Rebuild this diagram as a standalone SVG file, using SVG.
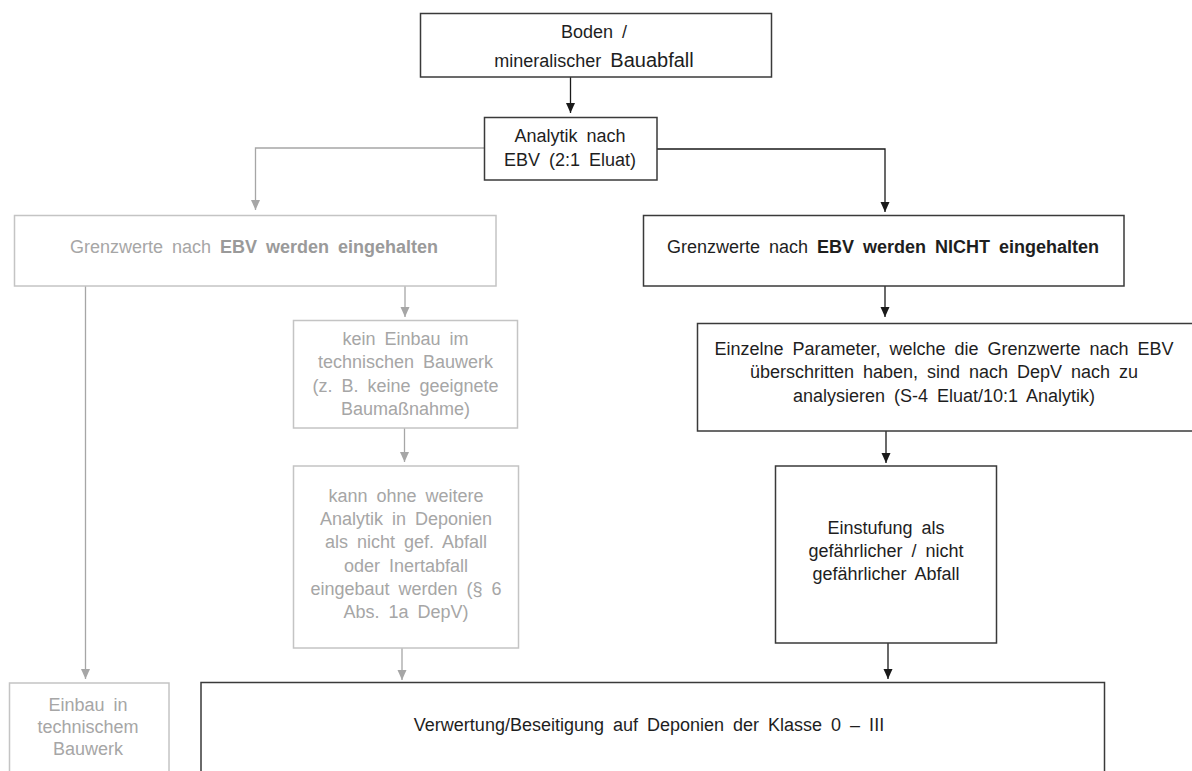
<svg xmlns="http://www.w3.org/2000/svg" width="1192" height="771" viewBox="0 0 1192 771">
<defs>
<marker id="ab" markerUnits="userSpaceOnUse" markerWidth="10" markerHeight="10" refX="10" refY="4.5" orient="auto">
<path d="M0,0 L10,4.5 L0,9 z" fill="#1a1a1a"/>
</marker>
<marker id="ag" markerUnits="userSpaceOnUse" markerWidth="10" markerHeight="10" refX="10" refY="4.5" orient="auto">
<path d="M0,0 L10,4.5 L0,9 z" fill="#a6a6a6"/>
</marker>
</defs>
<style>
text{font-family:"Liberation Sans",Arial,sans-serif;font-size:18px;word-spacing:4px;text-anchor:middle}
.bx{fill:#fff;stroke:#3a3a3a;stroke-width:1.5}
.gx{fill:#fff;stroke:#c4c4c4;stroke-width:1.5}
.bt{fill:#1e1e1e}
.gt{fill:#a6a6a6}
.b{font-weight:bold}
.gb{font-weight:bold;fill:#9a9a9a}
.cb{fill:none;stroke:#1a1a1a;stroke-width:1.3;marker-end:url(#ab)}
.cg{fill:none;stroke:#a6a6a6;stroke-width:1.3;marker-end:url(#ag)}
</style>
<rect width="1192" height="771" fill="#fff"/>
<g id="connectors">
<path class="cb" d="M570.5,77 V113"/>
<path class="cg" d="M484,148 H255.5 V210"/>
<path class="cb" d="M657,149 H885 V212"/>
<path class="cg" d="M85.5,286 V679"/>
<path class="cg" d="M405,286 V317"/>
<path class="cb" d="M885,286 V317"/>
<path class="cg" d="M404.5,428 V462"/>
<path class="cb" d="M886,431 V463"/>
<path class="cg" d="M402,648 V680"/>
<path class="cb" d="M888,643 V679"/>
</g>
<g id="n-boden">
<rect class="bx" x="420.5" y="13.5" width="351" height="63.5"/>
<text class="bt" x="594" y="38">Boden /</text>
<text class="bt" x="594" y="67">mineralischer <tspan font-size="20">Bauabfall</tspan></text>
</g>
<g id="n-analytik">
<rect class="bx" x="484.5" y="117.5" width="172.5" height="62.5"/>
<text class="bt" x="570" y="142">Analytik nach</text>
<text class="bt" x="570" y="166">EBV (2:1 Eluat)</text>
</g>
<g id="n-eingehalten">
<rect class="gx" x="14.5" y="215.5" width="481.5" height="70.5"/>
<text class="gt" x="254" y="253">Grenzwerte nach <tspan class="gb">EBV werden eingehalten</tspan></text>
</g>
<g id="n-nicht-eingehalten">
<rect class="bx" x="643.5" y="215.5" width="480.5" height="70.5"/>
<text class="bt" x="883" y="253">Grenzwerte nach <tspan class="b">EBV werden NICHT eingehalten</tspan></text>
</g>
<g id="n-kein-einbau">
<rect class="gx" x="293.5" y="320.5" width="224" height="107.5"/>
<text class="gt" x="405.5" y="345">kein Einbau im</text>
<text class="gt" x="405.5" y="368">technischen Bauwerk</text>
<text class="gt" x="405.5" y="392">(z. B. keine geeignete</text>
<text class="gt" x="405.5" y="415">Baumaßnahme)</text>
</g>
<g id="n-einzelne">
<rect class="bx" x="697.5" y="323.5" width="500" height="107.5"/>
<text class="bt" x="944" y="355">Einzelne Parameter, welche die Grenzwerte nach EBV</text>
<text class="bt" x="944" y="378">überschritten haben, sind nach DepV nach zu</text>
<text class="bt" x="944" y="402">analysieren (S-4 Eluat/10:1 Analytik)</text>
</g>
<g id="n-kann">
<rect class="gx" x="293.5" y="466" width="225" height="182"/>
<text class="gt" x="406" y="502">kann ohne weitere</text>
<text class="gt" x="406" y="525">Analytik in Deponien</text>
<text class="gt" x="406" y="548">als nicht gef. Abfall</text>
<text class="gt" x="406" y="572">oder Inertabfall</text>
<text class="gt" x="406" y="595">eingebaut werden (§ 6</text>
<text class="gt" x="406" y="618">Abs. 1a DepV)</text>
</g>
<g id="n-einstufung">
<rect class="bx" x="775.5" y="466" width="221" height="177"/>
<text class="bt" x="886" y="534">Einstufung als</text>
<text class="bt" x="886" y="557">gefährlicher / nicht</text>
<text class="bt" x="886" y="580">gefährlicher Abfall</text>
</g>
<g id="n-einbau">
<rect class="gx" x="9.5" y="683" width="159.5" height="100"/>
<text class="gt" x="88" y="711">Einbau in</text>
<text class="gt" x="88" y="733">technischem</text>
<text class="gt" x="88" y="755">Bauwerk</text>
</g>
<g id="n-verwertung">
<rect class="bx" x="201" y="682.5" width="903.5" height="100"/>
<text class="bt" x="649" y="731">Verwertung/Beseitigung auf Deponien der Klasse 0 – III</text>
</g>
</svg>
